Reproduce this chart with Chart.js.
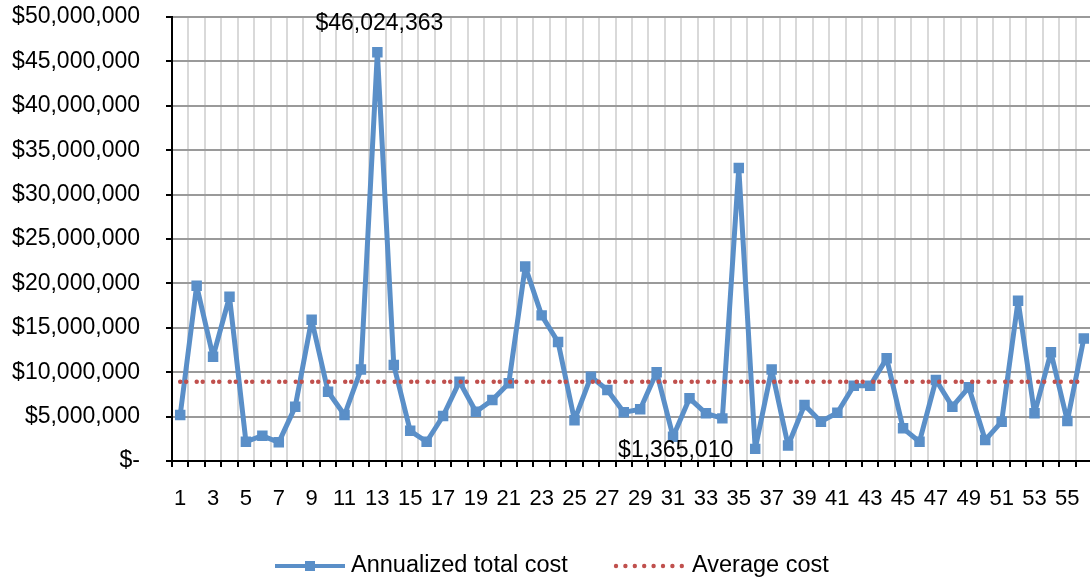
<!DOCTYPE html>
<html>
<head>
  <title>Annualized total cost</title>
  <script src="https://cdn.jsdelivr.net/npm/chart.js"></script>
  <style>
    html, body { margin: 0; padding: 0; overflow: hidden; background: #fff; }
  </style>
</head>
<body>
  <canvas id="costChart" width="1100" height="581"></canvas>

  <script>
    // x categories
    var categories = [
      '1','2','3','4','5','6','7','8','9','10',
      '11','12','13','14','15','16','17','18','19','20',
      '21','22','23','24','25','26','27','28','29','30',
      '31','32','33','34','35','36','37','38','39','40',
      '41','42','43','44','45','46','47','48','49','50',
      '51','52','53','54','55','56'
    ];

    // annualized total cost
    var annualizedCost = [
      5180000, 19740000, 11750000, 18500000, 2170000, 2850000, 2100000, 6100000, 15900000, 7800000,
      5180000, 10300000, 46024363, 10800000, 3400000, 2170000, 5070000, 8930000, 5550000, 6870000,
      8750000, 21900000, 16400000, 13400000, 4600000, 9500000, 8000000, 5480000, 5820000, 9990000,
      2740000, 7060000, 5370000, 4800000, 33000000, 1365010, 10300000, 1750000, 6300000, 4430000,
      5440000, 8480000, 8480000, 11560000, 3680000, 2170000, 9120000, 6120000, 8300000, 2360000,
      4430000, 18050000, 5370000, 12240000, 4500000, 13800000
    ];

    var averageCost = 8930000;

    // points that carry a value label
    var labelledPoints = [12, 35];

    var yTicksMax = 50000000;
    var yTicksStep = 5000000;

    function money(v) {
      if (v === 0) return '$-';
      return '$' + String(Math.round(v)).replace(/\B(?=(\d{3})+(?!\d))/g, ',');
    }

    var blue = '#5A8FC8';
    var red = '#C0504D';

    Chart.defaults.font.family = '"Liberation Sans", Arial, sans-serif';
    Chart.defaults.color = '#000';

    var pointLabels = {
      id: 'pointLabels',
      afterDatasetsDraw: function(chart) {
        var ctx = chart.ctx;
        var meta = chart.getDatasetMeta(1);
        ctx.save();
        ctx.font = '23px "Liberation Sans", Arial, sans-serif';
        ctx.fillStyle = '#000';
        ctx.textBaseline = 'middle';
        // max label above, min label to the left
        var pMax = meta.data[labelledPoints[0]];
        ctx.textAlign = 'center';
        ctx.fillText(money(annualizedCost[labelledPoints[0]]), pMax.x + 2, pMax.y - 29);
        var pMin = meta.data[labelledPoints[1]];
        ctx.textAlign = 'right';
        ctx.fillText(money(annualizedCost[labelledPoints[1]]), pMin.x - 22, pMin.y + 2);
        ctx.restore();
      }
    };

    var bottomLegend = {
      id: 'bottomLegend',
      afterDraw: function(chart) {
        var ctx = chart.ctx;
        var y = 566;
        ctx.save();
        ctx.strokeStyle = blue;
        ctx.lineWidth = 4;
        ctx.beginPath();
        ctx.moveTo(275, y);
        ctx.lineTo(345, y);
        ctx.stroke();
        ctx.fillStyle = blue;
        ctx.fillRect(305, y - 5, 10, 10);

        ctx.fillStyle = red;
        for (var i = 0; i < 8; i++) {
          ctx.beginPath();
          ctx.arc(616 + i * 9.4, y, 2.2, 0, Math.PI * 2);
          ctx.fill();
        }

        ctx.fillStyle = '#000';
        ctx.font = '23.5px "Liberation Sans", Arial, sans-serif';
        ctx.textBaseline = 'middle';
        ctx.textAlign = 'left';
        ctx.fillText('Annualized total cost', 351, y);
        ctx.fillText('Average cost', 692, y);
        ctx.restore();
      }
    };

    var ctx = document.getElementById('costChart').getContext('2d');
    new Chart(ctx, {
      type: 'line',
      data: {
        labels: categories,
        datasets: [{
          label: 'Average cost',
          data: categories.map(function() { return averageCost; }),
          borderColor: red,
          borderWidth: 4.5,
          borderDash: [0, 6, 0, 10.5],
          borderCapStyle: 'round',
          pointRadius: 0,
          fill: false,
          order: 0
        }, {
          label: 'Annualized total cost',
          data: annualizedCost,
          borderColor: blue,
          backgroundColor: blue,
          borderWidth: 5,
          borderJoinStyle: 'round',
          pointStyle: 'rect',
          pointRadius: 6,
          pointBorderWidth: 2,
          pointBackgroundColor: blue,
          pointBorderColor: blue,
          tension: 0,
          fill: false,
          order: 1
        }]
      },
      options: {
        responsive: false,
        animation: false,
        devicePixelRatio: 1,
        layout: { padding: { top: 17, right: 4, left: 0, bottom: 0 } },
        plugins: {
          legend: { display: false },
          tooltip: { enabled: false }
        },
        scales: {
          x: {
            offset: true,
            grid: {
              offset: true,
              color: '#D9D9D9',
              lineWidth: 2,
              tickColor: '#000',
              tickWidth: 2,
              tickLength: 6
            },
            border: { color: '#000', width: 2 },
            ticks: {
              autoSkip: false,
              maxRotation: 0,
              padding: 19,
              font: { size: 22 },
              callback: function(value, index) {
                return index % 2 === 0 ? categories[index] : '';
              }
            },
            afterFit: function(scale) {
              scale.height = 120;
              scale.paddingLeft = 0;
              scale.paddingRight = 0;
            }
          },
          y: {
            min: 0,
            max: yTicksMax,
            grid: {
              color: '#9A9A9A',
              lineWidth: 2,
              tickColor: '#000',
              tickWidth: 2,
              tickLength: 6
            },
            border: { color: '#000', width: 2 },
            ticks: {
              stepSize: yTicksStep,
              padding: 26,
              font: { size: 23 },
              callback: function(value) { return money(value); }
            },
            afterFit: function(scale) {
              scale.width = 172;
              scale.paddingTop = 0;
              scale.paddingBottom = 0;
            }
          }
        }
      },
      plugins: [pointLabels, bottomLegend]
    });
  </script>
</body>
</html>
